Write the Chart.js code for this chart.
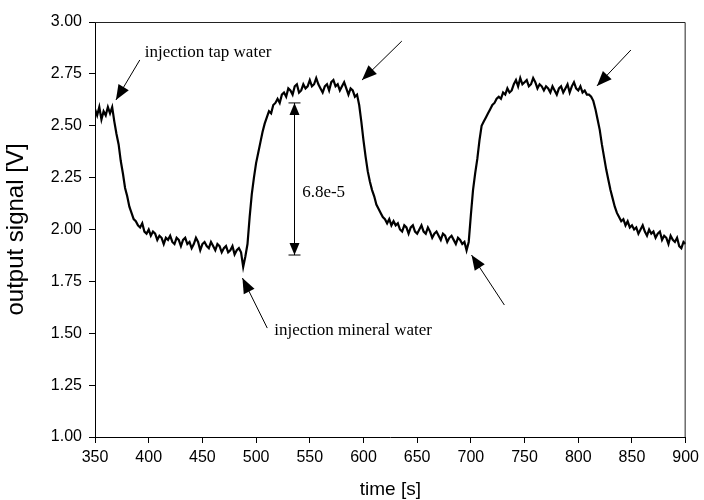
<!DOCTYPE html>
<html>
<head>
<meta charset="utf-8">
<script src="https://cdn.jsdelivr.net/npm/chart.js@4.4.1/dist/chart.umd.min.js"></script>
<style>
  html, body { margin: 0; padding: 0; background: #fff; }
  #wrap { width: 704px; height: 500px; }
</style>
</head>
<body>
<div id="wrap"><canvas id="chartSignal"></canvas></div>
<script>
// temps [s]
const temps = [
  350, 352, 354, 356, 358, 360, 362, 364, 366, 368,
  370, 372, 374, 376, 378, 380, 382, 384, 386, 388,
  390, 392, 394, 396, 398, 400, 402, 404, 406, 408,
  410, 412, 414, 416, 418, 420, 422, 424, 426, 428,
  430, 432, 434, 436, 438, 440, 442, 444, 446, 448,
  450, 452, 454, 456, 458, 460, 462, 464, 466, 468,
  470, 472, 474, 476, 478, 480, 482, 484, 486, 488,
  490, 492, 494, 496, 498, 500, 502, 504, 506, 508,
  510, 512, 514, 516, 518, 520, 522, 524, 526, 528,
  530, 532, 534, 536, 538, 540, 542, 544, 546, 548,
  550, 552, 554, 556, 558, 560, 562, 564, 566, 568,
  570, 572, 574, 576, 578, 580, 582, 584, 586, 588,
  590, 592, 594, 596, 598, 600, 602, 604, 606, 608,
  610, 612, 614, 616, 618, 620, 622, 624, 626, 628,
  630, 632, 634, 636, 638, 640, 642, 644, 646, 648,
  650, 652, 654, 656, 658, 660, 662, 664, 666, 668,
  670, 672, 674, 676, 678, 680, 682, 684, 686, 688,
  690, 692, 694, 696, 698, 700, 702, 704, 706, 708,
  710, 712, 714, 716, 718, 720, 722, 724, 726, 728,
  730, 732, 734, 736, 738, 740, 742, 744, 746, 748,
  750, 752, 754, 756, 758, 760, 762, 764, 766, 768,
  770, 772, 774, 776, 778, 780, 782, 784, 786, 788,
  790, 792, 794, 796, 798, 800, 802, 804, 806, 808,
  810, 812, 814, 816, 818, 820, 822, 824, 826, 828,
  830, 832, 834, 836, 838, 840, 842, 844, 846, 848,
  850, 852, 854, 856, 858, 860, 862, 864, 866, 868,
  870, 872, 874, 876, 878, 880, 882, 884, 886, 888,
  890, 892, 894, 896, 898, 900
];

// signal de sortie [V]
const signal = [
  2.58, 2.55, 2.59, 2.53, 2.57, 2.55, 2.59, 2.56, 2.59, 2.52,
  2.46, 2.41, 2.33, 2.27, 2.20, 2.16, 2.11, 2.08, 2.05, 2.04,
  2.02, 2.01, 2.03, 1.99, 1.98, 2.00, 1.97, 1.99, 1.98, 1.95,
  1.97, 1.96, 1.93, 1.96, 1.95, 1.97, 1.94, 1.93, 1.96, 1.95,
  1.92, 1.95, 1.96, 1.93, 1.94, 1.91, 1.93, 1.96, 1.94, 1.90,
  1.93, 1.94, 1.92, 1.91, 1.94, 1.92, 1.90, 1.93, 1.92, 1.89,
  1.91, 1.92, 1.89, 1.90, 1.92, 1.88, 1.90, 1.91, 1.89, 1.82,
  1.87, 1.93, 2.06, 2.17, 2.25, 2.32, 2.37, 2.42, 2.47, 2.51,
  2.54, 2.57, 2.56, 2.60, 2.61, 2.63, 2.61, 2.65, 2.66, 2.64,
  2.68, 2.67, 2.65, 2.69, 2.70, 2.66, 2.67, 2.70, 2.68, 2.69,
  2.72, 2.69, 2.70, 2.73, 2.70, 2.68, 2.66, 2.69, 2.70, 2.67,
  2.71, 2.72, 2.69, 2.70, 2.67, 2.69, 2.71, 2.68, 2.65, 2.68,
  2.67, 2.64, 2.65, 2.60, 2.52, 2.43, 2.35, 2.28, 2.23, 2.19,
  2.16, 2.12, 2.10, 2.08, 2.06, 2.05, 2.03, 2.05, 2.02, 2.04,
  2.02, 2.03, 2.00, 1.99, 2.02, 2.01, 1.98, 2.01, 2.02, 1.99,
  1.98, 2.00, 2.02, 1.99, 1.98, 2.01, 1.99, 1.96, 1.98, 1.99,
  1.97, 1.95, 1.98, 1.97, 1.94, 1.96, 1.97, 1.95, 1.93, 1.96,
  1.95, 1.93, 1.94, 1.90, 1.94, 2.07, 2.19, 2.27, 2.34, 2.43,
  2.50, 2.52, 2.54, 2.56, 2.58, 2.60, 2.61, 2.63, 2.64, 2.63,
  2.66, 2.65, 2.68, 2.66, 2.67, 2.70, 2.72, 2.69, 2.73, 2.70,
  2.71, 2.72, 2.69, 2.70, 2.73, 2.71, 2.68, 2.70, 2.69, 2.67,
  2.69, 2.68, 2.66, 2.69, 2.67, 2.65, 2.68, 2.69, 2.66, 2.68,
  2.70, 2.66, 2.69, 2.71, 2.68, 2.67, 2.69, 2.66, 2.67, 2.65,
  2.65, 2.64, 2.62, 2.58, 2.53, 2.48, 2.41, 2.35, 2.29, 2.24,
  2.19, 2.15, 2.11, 2.08, 2.06, 2.04, 2.05, 2.02, 2.04, 2.01,
  2.02, 2.00, 2.01, 1.98, 2.00, 2.02, 1.99, 1.97, 2.00, 1.98,
  1.99, 1.96, 1.98, 1.99, 1.95, 1.97, 1.96, 1.93, 1.97, 1.95,
  1.94, 1.96, 1.92, 1.91, 1.94, 1.93
];

const ticksX = [350, 400, 450, 500, 550, 600, 650, 700, 750, 800, 850, 900];
const ticksY = [1.00, 1.25, 1.50, 1.75, 2.00, 2.25, 2.50, 2.75, 3.00];

// annotations (unites des axes)
const fleches = [
  { de: [391.7, 2.817], vers: [369.5, 2.624] },
  { de: [635.7, 2.908], vers: [598.6, 2.720] },
  { de: [849.0, 2.865], vers: [817.4, 2.692] },
  { de: [510.4, 1.525], vers: [487.3, 1.766] },
  { de: [731.2, 1.636], vers: [700.6, 1.877] }
];
const textes = [
  { texte: "injection tap water", x: 396.4, y: 2.831 },
  { texte: "injection mineral water", x: 517.0, y: 1.492 },
  { texte: "6.8e-5", x: 542.9, y: 2.157 }
];
const cote = { x: 535.5, bas: 1.877, haut: 2.610 };

const sans = "'Liberation Sans', Arial, sans-serif";
const serif = "'Liberation Serif', 'Times New Roman', serif";

function pointe(ctx, x0, y0, x1, y1, long, demi) {
    const ang = Math.atan2(y1 - y0, x1 - x0);
    ctx.beginPath();
    ctx.moveTo(x1, y1);
    ctx.lineTo(x1 - long * Math.cos(ang) + demi * Math.sin(ang), y1 - long * Math.sin(ang) - demi * Math.cos(ang));
    ctx.lineTo(x1 - long * Math.cos(ang) - demi * Math.sin(ang), y1 - long * Math.sin(ang) + demi * Math.cos(ang));
    ctx.closePath();
    ctx.fill();
}

const pluginAnnotations = {
    id: "annotations",
    afterDatasetsDraw(chart) {
        const { ctx, chartArea: a, scales: { x, y } } = chart;
        ctx.save();

        // cadre haut et droite
        ctx.strokeStyle = "#222";
        ctx.lineWidth = 1;
        ctx.beginPath();
        ctx.moveTo(a.left, a.top + 0.5);
        ctx.lineTo(a.right - 0.5, a.top + 0.5);
        ctx.lineTo(a.right - 0.5, a.bottom);
        ctx.stroke();

        ctx.fillStyle = "#000";
        ctx.strokeStyle = "#000";

        // fleches
        fleches.forEach(f => {
            const x0 = x.getPixelForValue(f.de[0]), y0 = y.getPixelForValue(f.de[1]);
            const x1 = x.getPixelForValue(f.vers[0]), y1 = y.getPixelForValue(f.vers[1]);
            ctx.beginPath();
            ctx.moveTo(x0, y0);
            ctx.lineTo(x1, y1);
            ctx.stroke();
            pointe(ctx, x0, y0, x1, y1, 15, 6);
        });

        // double fleche
        const cx = Math.round(x.getPixelForValue(cote.x)) + 0.5;
        const yh = y.getPixelForValue(cote.haut), yb = y.getPixelForValue(cote.bas);
        ctx.beginPath();
        ctx.moveTo(cx, yh); ctx.lineTo(cx, yb);
        ctx.moveTo(cx - 6, yh); ctx.lineTo(cx + 6, yh);
        ctx.moveTo(cx - 6, yb); ctx.lineTo(cx + 6, yb);
        ctx.stroke();
        pointe(ctx, cx, yb, cx, yh, 12, 5);
        pointe(ctx, cx, yh, cx, yb, 12, 5);

        // textes
        ctx.font = "17px " + serif;
        ctx.textBaseline = "alphabetic";
        ctx.textAlign = "left";
        textes.forEach(t => {
            ctx.fillText(t.texte, x.getPixelForValue(t.x), y.getPixelForValue(t.y));
        });

        ctx.restore();
    }
};

new Chart(document.getElementById("chartSignal"), {
    type: "line",
    data: {
        datasets: [{
            label: "output signal",
            data: temps.map((t, i) => ({ x: t, y: signal[i] })),
            borderColor: "#000",
            borderWidth: 2.2,
            pointRadius: 0,
            tension: 0,
            fill: false
        }]
    },
    options: {
        responsive: true,
        maintainAspectRatio: false,
        animation: false,
        layout: { padding: { left: 0, top: 22, right: 16, bottom: 0 } },
        plugins: {
            legend: { display: false },
            tooltip: { enabled: false }
        },
        scales: {
            x: {
                type: "linear",
                min: 350,
                max: 900,
                afterBuildTicks: s => { s.ticks = ticksX.map(v => ({ value: v })); },
                afterFit: s => { s.height = 63; },
                ticks: {
                    font: { family: sans, size: 16 },
                    color: "#000",
                    padding: 5,
                    maxRotation: 0,
                    autoSkip: false
                },
                grid: { drawOnChartArea: false, drawTicks: true, tickLength: 6, color: "#000" },
                border: { color: "#000", width: 1 },
                title: {
                    display: true,
                    text: "time [s]",
                    color: "#000",
                    font: { family: sans, size: 19, lineHeight: 1 },
                    padding: { top: 0, bottom: 1 }
                }
            },
            y: {
                min: 1,
                max: 3,
                afterBuildTicks: s => { s.ticks = ticksY.map(v => ({ value: v })); },
                afterFit: s => { s.width = 95; },
                ticks: {
                    font: { family: sans, size: 16 },
                    color: "#000",
                    padding: 7,
                    callback: v => v.toFixed(2)
                },
                grid: { drawOnChartArea: false, drawTicks: true, tickLength: 6, color: "#000" },
                border: { color: "#000", width: 1 },
                title: {
                    display: true,
                    text: "output signal [V]",
                    color: "#000",
                    font: { family: sans, size: 24, lineHeight: 1 },
                    padding: { top: 4, bottom: 0 }
                }
            }
        }
    },
    plugins: [pluginAnnotations]
});
</script>
</body>
</html>
